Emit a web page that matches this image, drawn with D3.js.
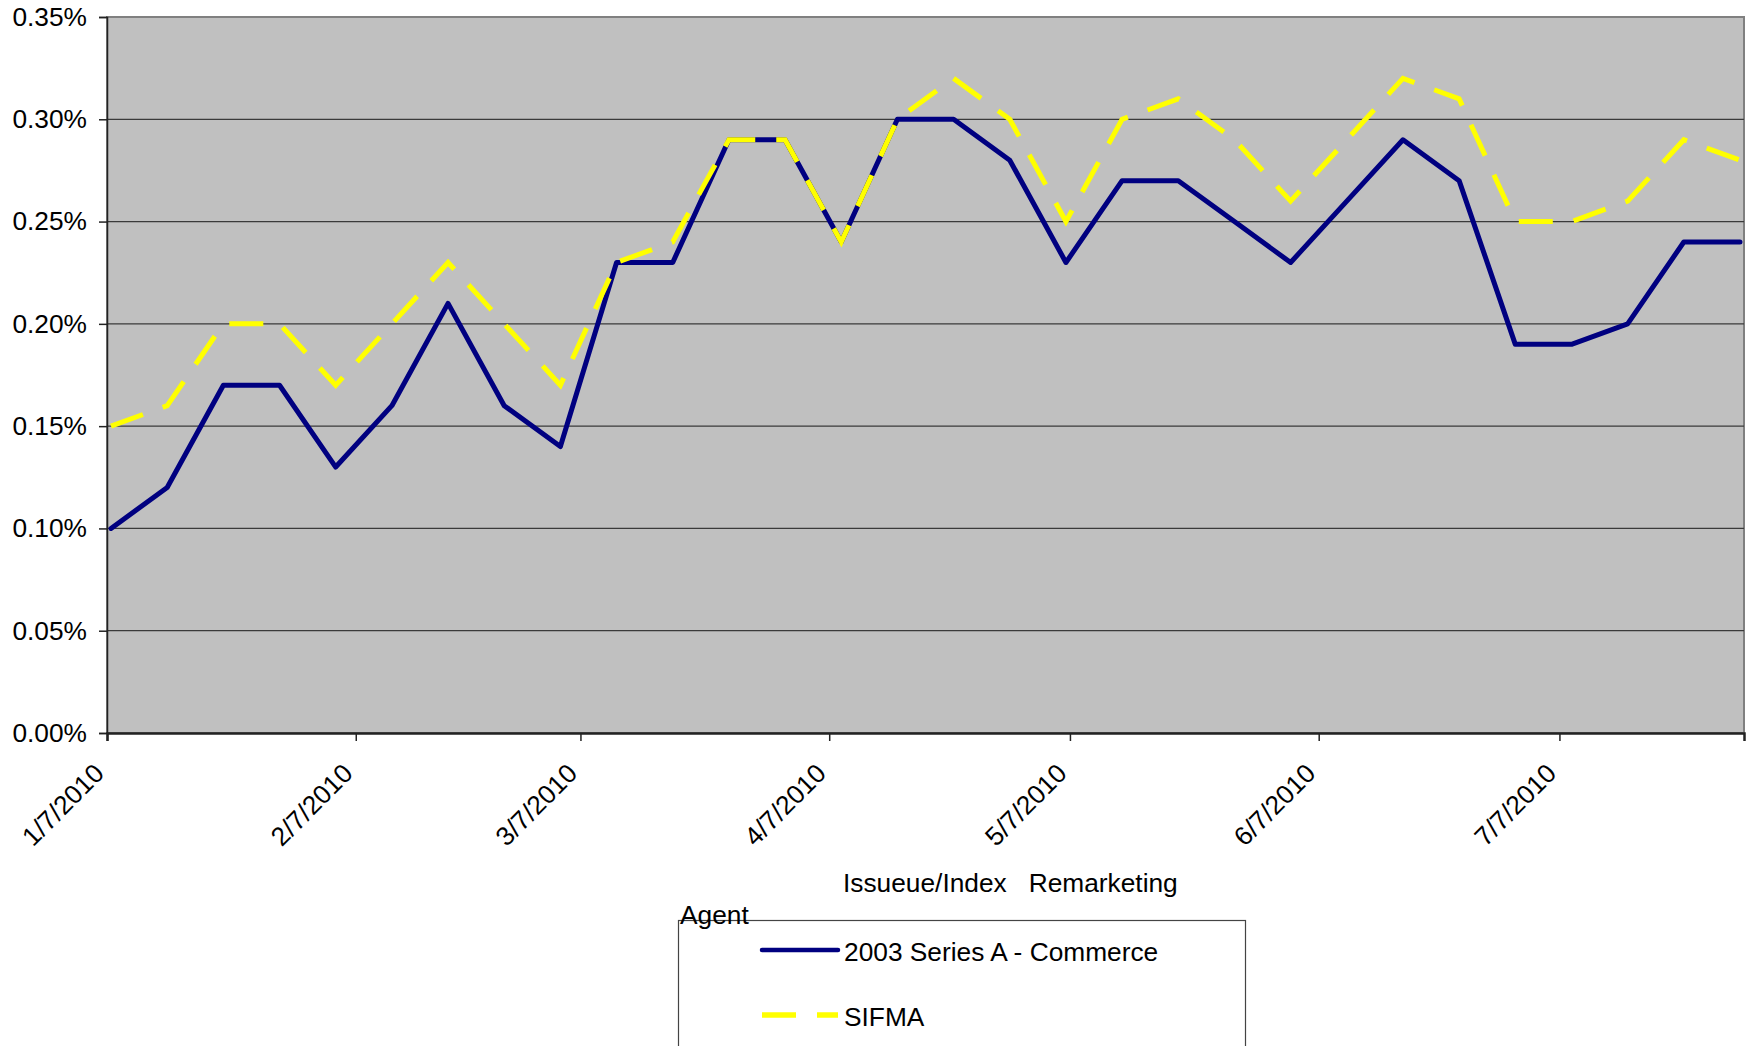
<!DOCTYPE html>
<html>
<head>
<meta charset="utf-8">
<script src="https://cdn.jsdelivr.net/npm/d3@7"></script>
<style>
  body { margin: 0; background: #fff; }
  text { font-family: "Liberation Sans", Arial, sans-serif; fill: #000; }
</style>
</head>
<body>
<script>
// weekly remarketing dates
var dates = ["1/7/2010", "1/14/2010", "1/21/2010", "1/28/2010", "2/4/2010", "2/11/2010",
    "2/18/2010", "2/25/2010", "3/4/2010", "3/11/2010", "3/18/2010", "3/25/2010",
    "4/1/2010", "4/8/2010", "4/15/2010", "4/22/2010", "4/29/2010", "5/6/2010",
    "5/13/2010", "5/20/2010", "5/27/2010", "6/3/2010", "6/10/2010", "6/17/2010",
    "6/24/2010", "7/1/2010", "7/8/2010", "7/15/2010", "7/22/2010", "7/29/2010"];

// rates in percent
var commerce = [0.10, 0.12, 0.17, 0.17, 0.13, 0.16, 0.21, 0.16, 0.14, 0.23,
    0.23, 0.29, 0.29, 0.24, 0.30, 0.30, 0.28, 0.23, 0.27, 0.27,
    0.25, 0.23, 0.26, 0.29, 0.27, 0.19, 0.19, 0.20, 0.24, 0.24];
var sifma = [0.15, 0.16, 0.20, 0.20, 0.17, 0.20, 0.23, 0.20, 0.17, 0.23,
    0.24, 0.29, 0.29, 0.24, 0.30, 0.32, 0.30, 0.25, 0.30, 0.31,
    0.29, 0.26, 0.29, 0.32, 0.31, 0.25, 0.25, 0.26, 0.29, 0.28];

var seriesNames = ["2003 Series A - Commerce", "SIFMA"];
var xTickLabels = ["1/7/2010", "2/7/2010", "3/7/2010", "4/7/2010", "5/7/2010", "6/7/2010", "7/7/2010"];
var yTicks = [0, 0.05, 0.10, 0.15, 0.20, 0.25, 0.30, 0.35];
var xDomain = ["1/7/2010", "7/30/2010"];

var parse = d3.timeParse("%m/%d/%Y");
var W = 1747, H = 1046;
var plotLeft = 107, plotRight = 1744, plotTop = 17, plotBottom = 733;
var fontSize = 26.3;

var svg = d3.select("body").append("svg")
    .attr("width", W)
    .attr("height", H);

var x = d3.scaleTime()
    .domain(xDomain.map(parse))
    .range([plotLeft, plotRight]);
var y = d3.scaleLinear()
    .domain([0, 0.35])
    .range([plotBottom, plotTop]);

// plot area
svg.append("rect")
    .attr("x", plotLeft).attr("y", plotTop)
    .attr("width", plotRight - plotLeft).attr("height", plotBottom - plotTop)
    .attr("fill", "#c0c0c0")
    .attr("stroke", "#808080")
    .attr("stroke-width", 2);

// gridlines
svg.selectAll(".grid")
    .data(yTicks.slice(1, -1))
    .enter()
    .append("line")
    .attr("class", "grid")
    .attr("x1", plotLeft).attr("x2", plotRight)
    .attr("y1", function (d) { return y(d); })
    .attr("y2", function (d) { return y(d); })
    .attr("stroke", "#3a3a3a")
    .attr("stroke-width", 1.2);

// y axis
var yAxis = d3.axisLeft(y)
    .tickValues(yTicks)
    .tickSize(8)
    .tickPadding(12)
    .tickFormat(function (d) { return d.toFixed(2) + "%"; });
var gy = svg.append("g")
    .attr("transform", "translate(" + plotLeft + ",0)")
    .call(yAxis);
gy.select(".domain").attr("stroke", "#222").attr("stroke-width", 1.5);
gy.selectAll(".tick line").attr("stroke", "#222").attr("stroke-width", 1.5);
gy.selectAll(".tick text")
    .attr("font-size", fontSize)
    .attr("font-family", "Liberation Sans, Arial, sans-serif")
    .attr("fill", "#000");

// x axis
var xAxis = d3.axisBottom(x)
    .tickValues(xTickLabels.map(parse))
    .tickSize(8)
    .tickFormat(function (d) { return d3.timeFormat("%-m/%-d/%Y")(d); });
var gx = svg.append("g")
    .attr("transform", "translate(0," + plotBottom + ")")
    .call(xAxis);
gx.select(".domain").attr("stroke", "#222").attr("stroke-width", 2.5);
gx.selectAll(".tick line").attr("stroke", "#222").attr("stroke-width", 1.5);
gx.selectAll(".tick text")
    .attr("font-size", fontSize)
    .attr("font-family", "Liberation Sans, Arial, sans-serif")
    .attr("fill", "#000")
    .attr("text-anchor", "end")
    .attr("dy", null)
    .attr("y", null)
    .attr("transform", "translate(-2,42) rotate(-45)");

// lines: each weekly value sits in the middle of its day on the date axis
var line = d3.line()
    .x(function (d) { return x(d3.timeHour.offset(d.date, 12)); })
    .y(function (d) { return y(d.value); });

function toPoints(values) {
    return values.map(function (v, i) { return { date: parse(dates[i]), value: v }; });
}

svg.append("path")
    .datum(toPoints(commerce))
    .attr("d", line)
    .attr("fill", "none")
    .attr("stroke", "#000080")
    .attr("stroke-width", 5)
    .attr("stroke-linejoin", "round")
    .attr("stroke-linecap", "round");

svg.append("path")
    .datum(toPoints(sifma))
    .attr("d", line)
    .attr("fill", "none")
    .attr("stroke", "#ffff00")
    .attr("stroke-width", 5)
    .attr("stroke-dasharray", "34,21");

// axis title, wrapped the way the original is
svg.append("text")
    .attr("x", 843).attr("y", 892)
    .attr("font-size", fontSize)
    .style("white-space", "pre")
    .text("Issueue/Index   Remarketing");

// legend
svg.append("rect")
    .attr("x", 678.5).attr("y", 920.5)
    .attr("width", 567).attr("height", 200)
    .attr("fill", "#fff")
    .attr("stroke", "#444")
    .attr("stroke-width", 1.2);

svg.append("text")
    .attr("x", 680).attr("y", 924)
    .attr("font-size", fontSize)
    .text("Agent");

var legend = svg.selectAll(".legend")
    .data(seriesNames)
    .enter()
    .append("g")
    .attr("class", "legend")
    .attr("transform", function (d, i) { return "translate(0," + (950 + i * 65) + ")"; });

legend.append("line")
    .attr("x1", 762).attr("x2", 838)
    .attr("y1", 0).attr("y2", 0)
    .attr("stroke", function (d, i) { return i === 0 ? "#000080" : "#ffff00"; })
    .attr("stroke-width", function (d, i) { return i === 0 ? 4.5 : 5.5; })
    .attr("stroke-linecap", function (d, i) { return i === 0 ? "round" : "butt"; })
    .attr("stroke-dasharray", function (d, i) { return i === 0 ? null : "34,21"; });

legend.append("text")
    .attr("x", 844).attr("y", 11)
    .attr("font-size", fontSize)
    .text(function (d) { return d; });
</script>
</body>
</html>
